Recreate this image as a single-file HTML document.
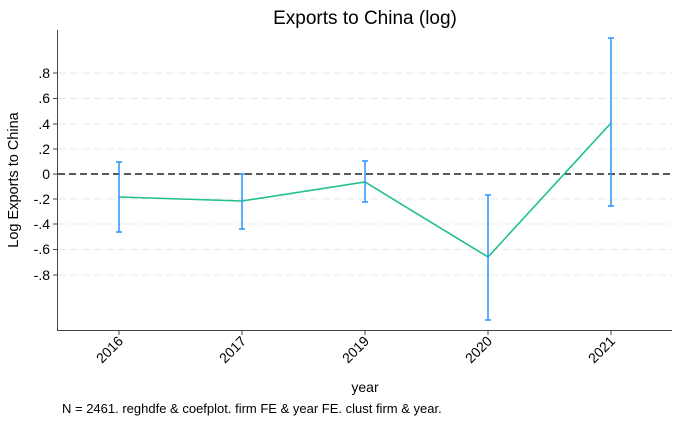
<!DOCTYPE html>
<html><head><meta charset="utf-8"><style>body{margin:0;background:#fff}svg{display:block}text{font-family:"Liberation Sans",sans-serif;fill:#000}</style></head><body>
<svg width="680" height="424" viewBox="0 0 680 424">
<text x="365" y="24" font-size="19" text-anchor="middle">Exports to China (log)</text>
<g stroke="#e8e8e8" stroke-width="1" stroke-dasharray="8,4">
<line x1="58" x2="672" y1="73" y2="73"/><line x1="58" x2="672" y1="98.5" y2="98.5"/><line x1="58" x2="672" y1="124" y2="124"/><line x1="58" x2="672" y1="149" y2="149"/>
<line x1="58" x2="672" y1="199" y2="199"/><line x1="58" x2="672" y1="224" y2="224"/><line x1="58" x2="672" y1="249.5" y2="249.5"/><line x1="58" x2="672" y1="275" y2="275"/>
</g>
<line x1="58" x2="672" y1="174" y2="174" stroke="#222" stroke-width="1.6" stroke-dasharray="7,4"/>
<g stroke="#444" stroke-width="1"><line x1="57.5" x2="57.5" y1="30" y2="330"/><line x1="57" x2="672" y1="330.5" y2="330.5"/>
<line x1="53" x2="58" y1="73" y2="73"/><line x1="53" x2="58" y1="98.5" y2="98.5"/><line x1="53" x2="58" y1="124" y2="124"/><line x1="53" x2="58" y1="149" y2="149"/><line x1="53" x2="58" y1="174" y2="174"/><line x1="53" x2="58" y1="199" y2="199"/><line x1="53" x2="58" y1="224" y2="224"/><line x1="53" x2="58" y1="249.5" y2="249.5"/><line x1="53" x2="58" y1="275" y2="275"/>
<line x1="119" x2="119" y1="330" y2="335"/><line x1="242" x2="242" y1="330" y2="335"/><line x1="365" x2="365" y1="330" y2="335"/><line x1="488" x2="488" y1="330" y2="335"/><line x1="611" x2="611" y1="330" y2="335"/></g>
<g font-size="14" text-anchor="end">
<text x="50" y="78">.8</text><text x="50" y="103">.6</text><text x="50" y="129">.4</text><text x="50" y="154">.2</text><text x="50" y="179">0</text><text x="50" y="204">-.2</text><text x="50" y="229">-.4</text><text x="50" y="254">-.6</text><text x="50" y="280">-.8</text>
</g>
<text transform="translate(18,180) rotate(-90)" font-size="14.5" text-anchor="middle">Log Exports to China</text>
<g font-size="14" text-anchor="end">
<text transform="translate(124,342) rotate(-45)">2016</text><text transform="translate(247,342) rotate(-45)">2017</text><text transform="translate(370,342) rotate(-45)">2019</text><text transform="translate(493,342) rotate(-45)">2020</text><text transform="translate(616,342) rotate(-45)">2021</text>
</g>
<text x="365" y="392" font-size="14" text-anchor="middle">year</text>
<text x="62" y="413" font-size="13">N = 2461. reghdfe &amp; coefplot. firm FE &amp; year FE. clust firm &amp; year.</text>
<polyline points="119,197 242,201 365,182 488,257 611,123" fill="none" stroke="#1fbf8f" stroke-width="1.6"/>
<g stroke="#3399ff" stroke-width="1.6">
<line x1="119" x2="119" y1="162" y2="232"/><line x1="116" x2="122" y1="162" y2="162"/><line x1="116" x2="122" y1="232" y2="232"/>
<line x1="242" x2="242" y1="174" y2="229"/><line x1="239" x2="245" y1="174" y2="174"/><line x1="239" x2="245" y1="229" y2="229"/>
<line x1="365" x2="365" y1="161" y2="202"/><line x1="362" x2="368" y1="161" y2="161"/><line x1="362" x2="368" y1="202" y2="202"/>
<line x1="488" x2="488" y1="195" y2="320"/><line x1="485" x2="491" y1="195" y2="195"/><line x1="485" x2="491" y1="320" y2="320"/>
<line x1="611" x2="611" y1="38" y2="206"/><line x1="608" x2="614" y1="38" y2="38"/><line x1="608" x2="614" y1="206" y2="206"/>
</g>
</svg>
</body></html>
